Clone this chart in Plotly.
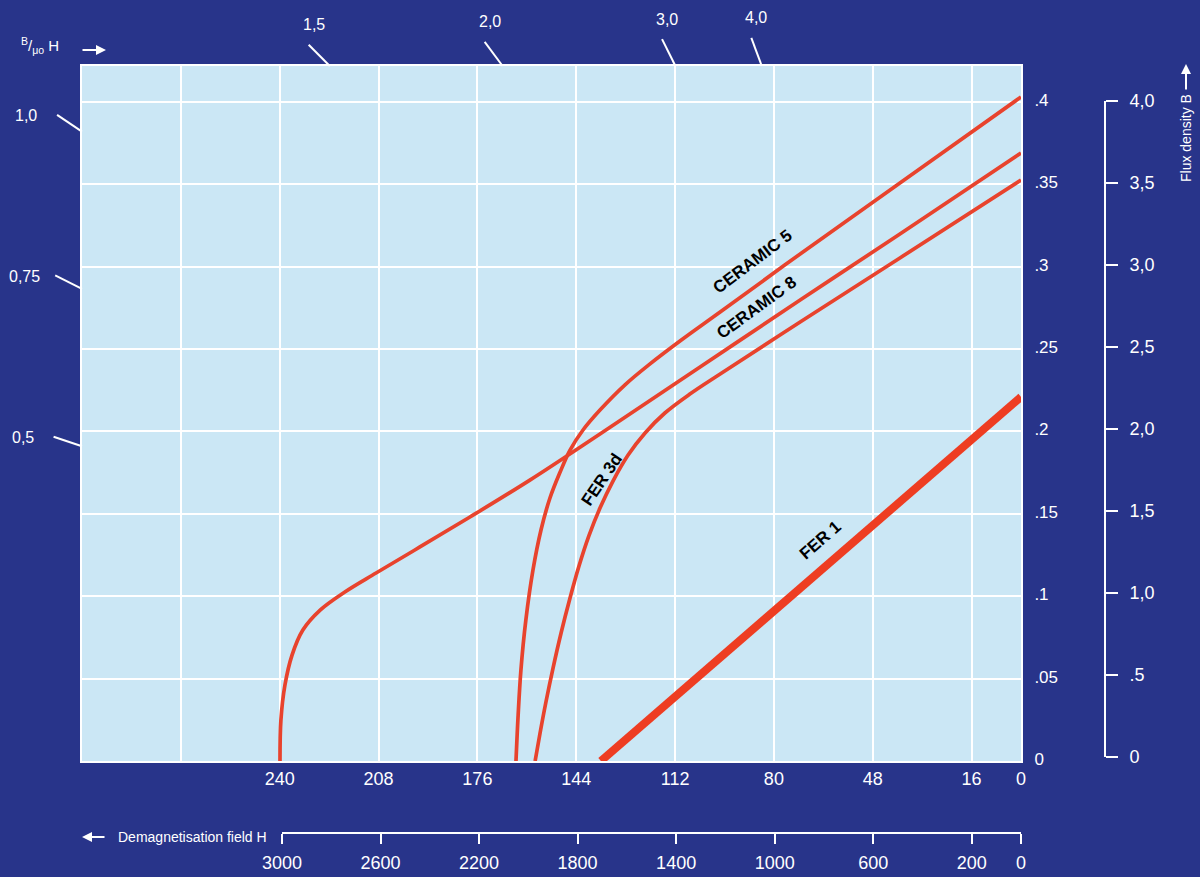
import plotly.graph_objects as go

# ---------------- data ----------------
# H in kA/m (demagnetising field, plotted leftwards), B in tesla
ceramic5_H = [0, 39.2, 71.5, 97.4, 110.4, 120.1, 128.2, 136.3, 141.8, 146.0, 149.2, 152.5,
              155.4, 158.0, 160.3, 161.9, 162.8, 163.5]
ceramic5_B = [0.403, 0.3508, 0.3077, 0.2725, 0.2549, 0.2410, 0.2283, 0.2130, 0.2009, 0.1887,
              0.1754, 0.1596, 0.1402, 0.1159, 0.0856, 0.0552, 0.0279, 0.0]

ceramic8_H = [0, 39.2, 71.5, 103.9, 136.3, 159.0, 178.4, 194.6, 208.8, 218.9, 226.9, 232.5,
              236.0, 238.3, 239.6, 239.9]
ceramic8_B = [0.369, 0.3198, 0.2798, 0.2391, 0.1985, 0.1705, 0.1481, 0.1299, 0.1141, 0.1026,
              0.0916, 0.0795, 0.0643, 0.0461, 0.0249, 0.0]

fer3d_H = [0, 39.2, 71.5, 97.4, 107.2, 115.3, 121.7, 127.2, 132.1, 136.3, 139.9, 143.1, 146.0,
           148.9, 151.5, 153.8, 155.7, 157.3]
fer3d_B = [0.3526, 0.3053, 0.2664, 0.2349, 0.2227, 0.2112, 0.1991, 0.1857, 0.1699, 0.1535,
           0.1366, 0.1183, 0.0989, 0.0777, 0.0564, 0.0358, 0.0170, 0.0]

fer1_H = [0, 136]
fer1_B = [0.221, 0.0]

# axis tick values / labels
h_ticks = [272, 240, 208, 176, 144, 112, 80, 48, 16, 0]
h_labels = ["", "240", "208", "176", "144", "112", "80", "48", "16", "0"]
oe_ticks = [3000, 2600, 2200, 1800, 1400, 1000, 600, 200, 0]
oe_labels = ["3000", "2600", "2200", "1800", "1400", "1000", "600", "200", "0"]
t_ticks = [0, 0.05, 0.1, 0.15, 0.2, 0.25, 0.3, 0.35, 0.4]
t_labels = ["0", ".05", ".1", ".15", ".2", ".25", ".3", ".35", ".4"]
kg_ticks = [0, 0.5, 1.0, 1.5, 2.0, 2.5, 3.0, 3.5, 4.0]
kg_labels = ["0", ".5", "1,0", "1,5", "2,0", "2,5", "3,0", "3,5", "4,0"]
load_lines = [0.5, 0.75, 1.0, 1.5, 2.0, 3.0, 4.0]
load_labels = ["0,5", "0,75", "1,0", "1,5", "2,0", "3,0", "4,0"]

# ---------------- layout geometry ----------------
W, HGT = 1200, 877
ML, MR, MT, MB = 82, 30, 66, 44
PW = W - ML - MR          # paper width in px
PH = HGT - MT - MB        # paper height in px
PLOT_R = 1021             # right edge of main plot (px)
PLOT_B = 761              # bottom edge of main plot (px)
H_MAX = 304
B_MAX = 0.4218
MU0 = 4e-7 * 3.141592653589793 * 1000  # T per kA/m

def px_to_paper(x, y):
    return (x - ML) / PW, (HGT - MB - y) / PH

def data_to_px(h, b):
    x = ML + (H_MAX - h) / H_MAX * (PLOT_R - ML)
    y = PLOT_B - b / B_MAX * (PLOT_B - MT)
    return x, y

NAVY = "#28348a"
PLOTBG = "#cbe7f5"
RED = "#e8432d"
FONT = "Liberation Sans, Arial, sans-serif"

fig = go.Figure()

for hs, bs in [(ceramic5_H, ceramic5_B), (ceramic8_H, ceramic8_B), (fer3d_H, fer3d_B)]:
    fig.add_trace(go.Scatter(x=hs, y=bs, mode="lines",
                             line=dict(color=RED, width=3.7, shape="spline", smoothing=1.0),
                             hoverinfo="skip", showlegend=False))
fig.add_trace(go.Scatter(x=fer1_H, y=fer1_B, mode="lines",
                         line=dict(color="#ee3d22", width=8),
                         hoverinfo="skip", showlegend=False))
# carrier for the secondary (Oe / kG) scales
fig.add_trace(go.Scatter(x=oe_ticks, y=kg_ticks, xaxis="x2", yaxis="y3", mode="markers",
                         marker=dict(opacity=0), hoverinfo="skip", showlegend=False))

x_dom_end = (PLOT_R - ML) / PW
y_dom_start = (HGT - MB - PLOT_B) / PH
tickfont = dict(color="white", size=18, family=FONT)
tickfont_r = dict(color="white", size=17, family=FONT)

fig.update_layout(
    width=W, height=HGT, autosize=False,
    margin=dict(l=ML, r=MR, t=MT, b=MB, pad=0, autoexpand=False),
    paper_bgcolor=NAVY, plot_bgcolor="rgba(0,0,0,0)",
    font=dict(family=FONT, color="white"),
    xaxis=dict(domain=[0, x_dom_end], range=[H_MAX, 0], tickvals=h_ticks, ticktext=h_labels,
               showgrid=True, gridcolor="white", gridwidth=2, zeroline=False,
               showline=True, linecolor="white", linewidth=2, mirror=True, automargin=False,
               ticks="", tickfont=tickfont, ticklabelstandoff=0),
    yaxis=dict(domain=[y_dom_start, 1], range=[0, B_MAX], side="right",
               tickvals=t_ticks, ticktext=t_labels, automargin=False,
               showgrid=True, gridcolor="white", gridwidth=2, zeroline=False,
               showline=True, linecolor="white", linewidth=2, mirror=True,
               ticks="", tickfont=tickfont_r, ticklabelstandoff=8, ticklabelshift=-2),
    xaxis2=dict(domain=[(282 - ML) / PW, x_dom_end], anchor="free", position=0,
                range=[3000, 0], tickvals=oe_ticks, ticktext=oe_labels, automargin=False,
                showgrid=False, zeroline=False, showline=True, linecolor="white", linewidth=2,
                ticks="outside", ticklen=10, tickwidth=2, tickcolor="white",
                tickfont=tickfont, ticklabelstandoff=3, side="bottom"),
    yaxis3=dict(domain=[(HGT - MB - 757) / PH, (HGT - MB - 101) / PH], anchor="free",
                position=(1105 - ML) / PW, side="right", range=[0, 4], automargin=False,
                tickvals=kg_ticks, ticktext=kg_labels,
                showgrid=False, zeroline=False, showline=True, linecolor="white", linewidth=2,
                ticks="outside", ticklen=12, tickwidth=2, tickcolor="white",
                tickfont=tickfont, ticklabelstandoff=8),
)

shapes = []
annotations = []

# light-blue plotting area (drawn under everything, spans the main subplot domain)
shapes.append(dict(type="rect", xref="paper", yref="paper", x0=0, x1=x_dom_end,
                   y0=y_dom_start, y1=1, layer="below", line=dict(width=0), fillcolor=PLOTBG))

# permeance-coefficient (B/mu0H) ticks outside the plot frame
ox, oy = data_to_px(0, 0)
for p, lab in zip(load_lines, load_labels):
    s = p * MU0
    h_edge = min(H_MAX, B_MAX / s)
    b_edge = s * h_edge
    ex, ey = data_to_px(h_edge, b_edge)
    dx, dy = ex - ox, ey - oy
    n = (dx * dx + dy * dy) ** 0.5
    dx, dy = dx / n, dy / n
    L = 30
    tx, ty = ex + L * dx, ey + L * dy
    x0, y0 = px_to_paper(ex, ey)
    x1, y1 = px_to_paper(tx, ty)
    shapes.append(dict(type="line", xref="paper", yref="paper", x0=x0, y0=y0, x1=x1, y1=y1,
                       line=dict(color="white", width=2)))
    if h_edge < H_MAX:
        lx, ly = tx + 5, ty - 20
    else:
        lx, ly = tx - 31, ty + 1
    ax_, ay_ = px_to_paper(lx, ly)
    annotations.append(dict(x=ax_, y=ay_, xref="paper", yref="paper", text=lab, showarrow=False,
                            xanchor="center", yanchor="middle",
                            font=dict(color="white", size=16, family=FONT)))

# curve labels
lab_font = dict(color="black", size=17, family=FONT)
annotations += [
    dict(x=86.8, y=0.303, xref="x", yref="y", text="<b>CERAMIC 5</b>", textangle=-37,
         showarrow=False, font=lab_font, xanchor="center", yanchor="middle"),
    dict(x=85.5, y=0.275, xref="x", yref="y", text="<b>CERAMIC 8</b>", textangle=-36,
         showarrow=False, font=lab_font, xanchor="center", yanchor="middle"),
    dict(x=135.6, y=0.1706, xref="x", yref="y", text="<b>FER 3d</b>", textangle=-56,
         showarrow=False, font=lab_font, xanchor="center", yanchor="middle"),
    dict(x=65.1, y=0.134, xref="x", yref="y", text="<b>FER 1</b>", textangle=-41,
         showarrow=False, font=lab_font, xanchor="center", yanchor="middle"),
]

# axis captions
cx, cy = px_to_paper(192, 837)
annotations.append(dict(x=cx, y=cy, xref="paper", yref="paper", text="Demagnetisation field H",
                        showarrow=False, xanchor="center", yanchor="middle",
                        font=dict(color="white", size=14, family=FONT)))
hx, hy = px_to_paper(82, 837)
annotations.append(dict(x=hx, y=hy, xref="paper", yref="paper", text="", showarrow=True,
                        ax=24, ay=0, arrowhead=2, arrowsize=1, arrowwidth=2, arrowcolor="white"))

fx, fy = px_to_paper(1186, 138)
annotations.append(dict(x=fx, y=fy, xref="paper", yref="paper", text="Flux density B",
                        textangle=-90, showarrow=False, xanchor="center", yanchor="middle",
                        font=dict(color="white", size=14, family=FONT)))
fhx, fhy = px_to_paper(1186, 64)
annotations.append(dict(x=fhx, y=fhy, xref="paper", yref="paper", text="", showarrow=True,
                        ax=0, ay=27, arrowhead=2, arrowsize=1, arrowwidth=2, arrowcolor="white"))

bx, by = px_to_paper(40, 46)
annotations.append(dict(x=bx, y=by, xref="paper", yref="paper",
                        text="<sup>B</sup>/<sub>μo</sub> H", showarrow=False,
                        xanchor="center", yanchor="middle",
                        font=dict(color="white", size=15, family=FONT)))
bhx, bhy = px_to_paper(106, 50)
annotations.append(dict(x=bhx, y=bhy, xref="paper", yref="paper", text="", showarrow=True,
                        ax=-25, ay=0, arrowhead=2, arrowsize=1, arrowwidth=2, arrowcolor="white"))

fig.update_layout(shapes=shapes, annotations=annotations)

css_js = (
    "document.documentElement.style.margin='0';"
    "document.documentElement.style.overflow='hidden';"
    "document.documentElement.style.height='877px';"
    "document.body.style.margin='0';"
    "document.body.style.overflow='hidden';"
    "document.body.style.height='877px';"
)
fig.write_html("out.html", config={"displayModeBar": False}, post_script=css_js)
